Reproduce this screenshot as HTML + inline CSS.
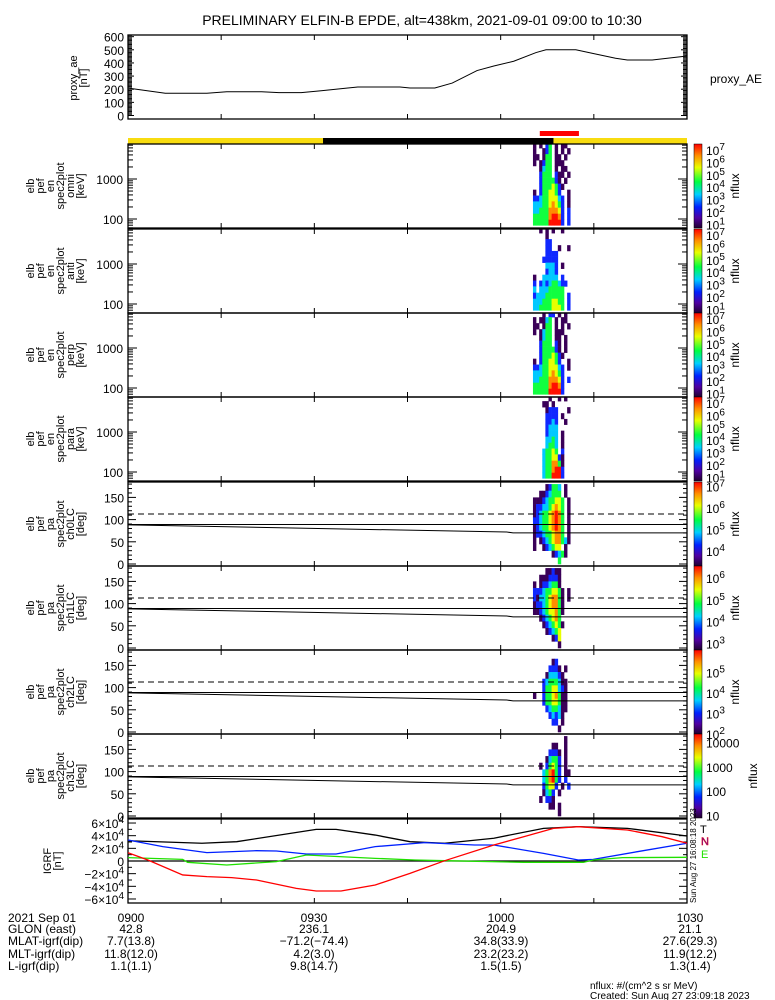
<!DOCTYPE html>
<html><head><meta charset="utf-8"><style>
html,body{margin:0;padding:0;background:#fff;}
svg{display:block;font-family:"Liberation Sans",sans-serif;}
</style></head><body>
<svg id="chart" width="775" height="1000" viewBox="0 0 775 1000" xmlns="http://www.w3.org/2000/svg">
<rect x="0" y="0" width="775" height="1000" fill="#fff"/>
<defs>
<linearGradient id="cmap" x1="0" y1="1" x2="0" y2="0">
<stop offset="0" stop-color="#200030"/><stop offset="0.12" stop-color="#5000a0"/><stop offset="0.25" stop-color="#0020ff"/>
<stop offset="0.4" stop-color="#00d0ff"/><stop offset="0.55" stop-color="#00ff40"/><stop offset="0.72" stop-color="#e8ff00"/>
<stop offset="0.86" stop-color="#ff9000"/><stop offset="1" stop-color="#ff0000"/>
</linearGradient>
</defs>
<text x="422" y="25" font-size="14" text-anchor="middle">PRELIMINARY ELFIN-B EPDE, alt=438km, 2021-09-01 09:00 to 10:30</text>
</svg>
<script>
// ---------- data ----------
const aeTimes=[0.2,6,12.7,15.9,21.5,24.3,27.9,31.1,35,37,43.8,45.4,49.4,52.2,56.2,58.9,62.1,65.7,67.3,72.1,74.9,78.5,80.4,84.4,90];
const aeValues=[207,169,169,181,181,174,174,188,207,217,217,209,209,247,342,377,413,479,500,500,472,436,422,422,453];
const aeTicks=[0,100,200,300,400,500,600];

const igrfBlackT=[0,11.9,17.5,30.3,33.5,39.8,45.4,51,58.9,66.9,72.5,80.4,90];
const igrfBlackV=[3.2,2.8,3.05,5.0,5.0,4.1,3.05,2.8,3.6,5.16,5.42,5.16,3.95];
const igrfRedT=[0,3.2,8.8,12.7,16.7,20.7,27.1,30.3,34.3,39.8,45.4,51,58.9,63.7,68.5,72.5,80.4,86,90];
const igrfRedV=[1.31,0.16,-2.2,-2.47,-2.63,-3.0,-4.32,-4.74,-4.74,-3.79,-1.95,0.05,2.53,3.84,5.16,5.42,4.9,3.84,2.8];
const igrfBlueT=[0,5.6,12.7,20.7,23.9,28.7,33.5,39.8,47.8,55.8,58.9,66.9,72.5,74.9,82,90];
const igrfBlueV=[3.32,2.27,1.32,1.63,1.58,1.11,1.11,2.27,2.9,2.53,2.53,1.21,0.16,0.26,1.47,2.8];
const igrfGreenT=[0,8.8,9.6,15.9,23.9,28.7,39.8,46.2,51,63.7,73.3,74.9,79.6,90];
const igrfGreenV=[0.53,0.26,-0.21,-0.63,-0.1,0.95,0.42,0.16,0.05,-0.21,-0.21,0.16,0.53,0.58];
const igrfTicks=[-6,-4,-2,0,2,4,6];

const lcTimes=[0,61,62,90];
const lcFlat=[89,89,89,89];
const lcSlant=[88,72,70,70];
const lcDashed=112.5;

const specT0=65.2, specDt=0.5;
const energies=[7000,5000,3500,2500,1800,1300,900,650,450,330,230,160,115,80];
const pitchBins=[172.5,157.5,142.5,127.5,112.5,97.5,82.5,67.5,52.5,37.5,22.5,7.5];
const omni=["1.1.24.1.11..","1..124.1.1.1.","11.144.11.1..","1.1244.111...","..1344.1.11..","..2444.211.1.","..2444421.1..","..24445421...","1.2445542..1.","2234455532.1.","3334456542.1.","3344466652.2.","4444467762.2.","4444477772.2."];
const anti=["..1.1.1..1...","....1........","....22.......","....22..1..1.","....2222.....","...22222.....","....3332.1...","....2332.....","1..33333.2...","2.232344322..","3.33344444...","2333444444.2.","3334445544.2.","3344445554.2."];
const perp=["...1.22.1.1..","1.1134.1.11..","11.144.1.1.1.","1.1344.111...","..1344.11.1..","..2444.21.1..","..2444421.1..","..24445421...","1.2445542..1.","2234455532.1.","3334456542...","3344466652.2.","4444467762...","4444477772..."];
const para=[".....1..1.1..","...11.1......","....1222...1.","....2222.1...","....2232..1..","....2333.....","....2333.1...","....3343.1...","....3443.1...","...34454.2...","...3445521...","...3446641...","...3446772...","...3447772..."];
const ch0=["....12443.1..","..1123444.1..","1112344554.1.","1223345654.1.","1234456764.1.","2234456764.1.","1234456764.1.","1223445664.1.","1.1234566431.","1..123455.1..","......12341..","........4...."];
const ch1=["....11211....","..1112221....","1.1223441....","2223445541.1.","2133456641.1.","1223456641...","1123455641...","..1234564....","...1234541...","....12345....","......125....","........1...."];
const ch2=[".............","......12.....",".....2221.1..","....133321...","...23444311..","...24455321..","1..24456411..","...24455411..","....2344311..",".....23231...","......22.1...","........1...."];
const ch3=["..........1..","......11..1..",".....2221.1..","....13442.1..","..1.24542.1..","...346742.11.","...346742.2..","...24552.1.2.","...1342.1....","..1.221......",".....11.1....","........1...."];

const spColors=["","#3a0058","#1028ff","#00c8ff","#10ff40","#e8ff00","#ff8c00","#ff1000"];

// ---------- geometry ----------
const X0=128, X1=687;
const NS="http://www.w3.org/2000/svg";
const svg=document.getElementById('chart');
function xs(t){return X0+t*(X1-X0)/90;}
function mk(tag,attrs,parent){const e=document.createElementNS(NS,tag);for(const k in attrs)e.setAttribute(k,attrs[k]);(parent||svg).appendChild(e);return e;}
function txt(x,y,s,size,anchor,parent){const e=mk('text',{x:x,y:y,'font-size':size,'text-anchor':anchor||'start'},parent);e.textContent=s;return e;}
function sup(x,y,base,exp,size,parent){const e=mk('text',{x:x,y:y,'font-size':size},parent);const a=document.createElementNS(NS,'tspan');a.textContent=base;e.appendChild(a);const b=document.createElementNS(NS,'tspan');b.setAttribute('dy','-5');b.setAttribute('font-size',size-2);b.textContent=exp;e.appendChild(b);return e;}

function xTicks(top,bot){
  for(let m=0;m<=90;m+=15){const x=xs(m);
    const t1=mk('line',{x1:x,y1:bot,x2:x,y2:bot-5,stroke:'#000','stroke-width':1});
    
    
    const t2=mk('line',{x1:x,y1:top,x2:x,y2:top+5,stroke:'#000','stroke-width':1});
    
    
  }
}
function frame(top,bot,name){
  const r=mk('rect',{x:X0,y:top,width:X1-X0,height:bot-top,fill:'none',stroke:'#000','stroke-width':1.3});
  
  
}
function leftLabel(cx,cy,lines,name){
  const g=mk('g',{transform:`translate(${cx},${cy}) rotate(-90)`});
  
  
  lines.forEach((s,i)=>{txt(0,(i-(lines.length-1)/2)*10+4,s,11,'middle',g);});
}
function yTick(x,y,len,side){
  const l=mk('line',{x1:x,y1:y,x2:side>0?x+len:x-len,y2:y,stroke:'#000','stroke-width':1});
  
  
}
function colorbar(top,bot,lmin,lmax,labels,name,plain){
  const r=mk('rect',{x:694,y:top,width:8,height:bot-top,fill:'url(#cmap)',stroke:'#000','stroke-width':0.5});
  
  
  labels.forEach(p=>{const y=bot-(p-lmin)/(lmax-lmin)*(bot-top)+5;
    const e=plain?txt(706,y,String(Math.pow(10,p)),12,'start'):sup(706,y,'10',String(p),12);
    
    
  });
  const g=mk('g',{transform:`translate(${plain?757:739},${(top+bot)/2}) rotate(-90)`});
  
  
  txt(0,0,'nflux',12,'middle',g);
}

// ---------- AE panel ----------
const aeTop=35,aeBot=119;
function aeY(v){return 115.5-v*0.1314;}
frame(aeTop,aeBot,'proxy-ae-panel');
xTicks(aeTop,aeBot);
for(let v=0;v<=620;v+=10){if(aeY(v)<aeTop)break;yTick(X0,aeY(v),v%100===0?6:4,1);yTick(X1,aeY(v),v%100===0?6:4,-1);}
aeTicks.forEach(v=>{const e=txt(124,aeY(v)+5,String(v),12,'end');});
leftLabel(78,78,['proxy_ae','[nT]'],'ae-y-axis-title');
{const pts=aeTimes.map((t,i)=>xs(t)+','+aeY(aeValues[i])).join(' ');
const pl=mk('polyline',{points:pts,fill:'none',stroke:'#000','stroke-width':1});

}
{const e=txt(710,83,'proxy_AE',12,'start');}

// ---------- status bars ----------
{const a=mk('rect',{x:X0,y:138,width:X1-X0,height:6,fill:'#f8dc10'});
const b=mk('rect',{x:xs(31.4),y:138,width:xs(68.5)-xs(31.4),height:6,fill:'#000'});
const c=mk('rect',{x:xs(66.3),y:131,width:xs(72.6)-xs(66.3),height:5,fill:'#f00'});}

// ---------- spectrogram panels ----------
const specPanels=[
 {top:144,data:omni,label:['elb','pef','en','spec2plot','omni','[keV]'],name:'omni'},
 {top:229,data:anti,label:['elb','pef','en','spec2plot','anti','[keV]'],name:'anti'},
 {top:313,data:perp,label:['elb','pef','en','spec2plot','perp','[keV]'],name:'perp'},
 {top:397,data:para,label:['elb','pef','en','spec2plot','para','[keV]'],name:'para'}];
specPanels.forEach(p=>{
  const top=p.top,bot=top+84;
  const ey=e=>bot-(Math.log10(e)-1.775)*40;
  p.data.forEach((row,ri)=>{
    const e=energies[ri];
    const eHi=ri===0?e*1.2:Math.sqrt(e*energies[ri-1]);
    const eLo=ri===energies.length-1?e/1.15:Math.sqrt(e*energies[ri+1]);
    for(let ci=0;ci<row.length;ci++){const c=row[ci];if(c==='.')continue;
      const t=specT0+ci*specDt;
      const y1=Math.max(top,ey(eHi)),y2=ey(eLo);
      const r=mk('rect',{x:xs(t),y:y1,width:xs(t+specDt)-xs(t)+0.3,height:y2-y1+0.3,fill:spColors[+c]});
      
      
    }
  });
  frame(top,bot,p.name+'-energy-panel');
  xTicks(top,bot);
  for(let d=1;d<=4;d++)for(let k=1;k<10;k++){const v=k*Math.pow(10,d);const y=ey(v);if(y<top||y>bot)continue;yTick(X0,y,k===1?9:5,1);yTick(X1,y,k===1?9:5,-1);}
  [100,1000].forEach(v=>{const e=txt(123,ey(v)+5,String(v),12,'end');});
  leftLabel(55,(top+bot)/2,p.label,p.name+'-y-axis-title');
  colorbar(top,bot,0.7,7.5,[7,6,5,4,3,2,1],p.name+'-colorbar',false);
});

// ---------- pitch angle panels ----------
const paPanels=[
 {top:482,data:ch0,label:['elb','pef','pa','spec2plot','ch0LC','[deg]'],name:'ch0lc',cb:[3.3,7.2,[7,6,5,4]],plain:false},
 {top:566,data:ch1,label:['elb','pef','pa','spec2plot','ch1LC','[deg]'],name:'ch1lc',cb:[2.7,6.55,[6,5,4,3]],plain:false},
 {top:650,data:ch2,label:['elb','pef','pa','spec2plot','ch2LC','[deg]'],name:'ch2lc',cb:[2.0,6.1,[5,4,3,2]],plain:false},
 {top:734,data:ch3,label:['elb','pef','pa','spec2plot','ch3LC','[deg]'],name:'ch3lc',cb:[0.9,4.35,[4,3,2,1]],plain:true}];
paPanels.forEach(p=>{
  const top=p.top,bot=top+84;
  const py=d=>bot-2-d*0.444;
  p.data.forEach((row,ri)=>{
    const d=pitchBins[ri];
    for(let ci=0;ci<row.length;ci++){const c=row[ci];if(c==='.')continue;
      const t=specT0+ci*specDt;
      const y1=py(d+7.5),y2=py(d-7.5);
      const r=mk('rect',{x:xs(t),y:y1,width:xs(t+specDt)-xs(t)+0.3,height:y2-y1+0.3,fill:spColors[+c]});
      
      
    }
  });
  const dl=mk('line',{x1:X0,y1:py(lcDashed),x2:X1,y2:py(lcDashed),stroke:'#000','stroke-width':1,'stroke-dasharray':'6,4'});
  
  
  const f=mk('polyline',{points:lcTimes.map((t,i)=>xs(t)+','+py(lcFlat[i])).join(' '),fill:'none',stroke:'#000','stroke-width':1});
  
  
  const s=mk('polyline',{points:lcTimes.map((t,i)=>xs(t)+','+py(lcSlant[i])).join(' '),fill:'none',stroke:'#000','stroke-width':1});
  
  
  frame(top,bot,p.name+'-pitch-panel');
  xTicks(top,bot);
  for(let d=0;d<=180;d+=10){yTick(X0,py(d),d%50===0?8:4,1);yTick(X1,py(d),d%50===0?8:4,-1);}
  [0,50,100,150].forEach(v=>{const e=txt(124,py(v)+5,String(v),12,'end');});
  leftLabel(55,(top+bot)/2,p.label,p.name+'-y-axis-title');
  colorbar(top,bot,p.cb[0],p.cb[1],p.cb[2],p.name+'-colorbar',p.plain);
});

// ---------- IGRF panel ----------
const igTop=819,igBot=903;
const iy=v=>861-v*6.33;
frame(igTop,igBot,'igrf-panel');
xTicks(igTop,igBot);
{const z=mk('line',{x1:X0,y1:iy(0),x2:X1,y2:iy(0),stroke:'#000','stroke-width':1.2});}
for(let v=-6;v<=6;v+=1){yTick(X0,iy(v),v%2===0?8:4,1);yTick(X1,iy(v),v%2===0?8:4,-1);}
igrfTicks.forEach(v=>{const s=(v<0?'\u2212':'')+(v===0?'0':Math.abs(v)+'\u00d710');
  const e=v===0?txt(124,iy(v)+5,'0',12,'end'):sup(103,iy(v)+5,s,'4',12);
  if(v!==0)e.setAttribute('text-anchor','end');
  if(v!==0)e.setAttribute('x','124');
  
  });
leftLabel(52,861,['IGRF','[nT]'],'igrf-y-axis-title');
[[igrfBlackT,igrfBlackV,'#000','igrf-total-line'],[igrfBlueT,igrfBlueV,'#0020ff','igrf-n-line'],[igrfGreenT,igrfGreenV,'#20e000','igrf-e-line'],[igrfRedT,igrfRedV,'#ff0000','igrf-down-line']].forEach(s=>{
  const pl=mk('polyline',{points:s[0].map((t,i)=>xs(t)+','+iy(s[1][i])).join(' '),fill:'none',stroke:s[2],'stroke-width':1.3});
  
  
});
{const g=mk('g',{transform:'translate(696,903) rotate(-90)'});txt(0,0,'Sun Aug 27 16:08:18 2023',8,'start',g);
const a=txt(700,833,'T',11,'start');a.setAttribute('fill','#000');
const b=txt(701,845,'N',11,'start');b.setAttribute('fill','#0020ff');b.setAttribute('stroke','#ff0000');b.setAttribute('stroke-width','0.5');
const c=txt(701,858,'E',11,'start');c.setAttribute('fill','#20e000');}

// ---------- bottom annotations ----------
const rowNames=['2021 Sep 01','GLON (east)','MLAT-igrf(dip)','MLT-igrf(dip)','L-igrf(dip)'];
const colX=[131,314,501,690];
const colVals=[['0900','42.8','7.7(13.8)','11.8(12.0)','1.1(1.1)'],['0930','236.1','\u221271.2(\u221274.4)','4.2(3.0)','9.8(14.7)'],['1000','204.9','34.8(33.9)','23.2(23.2)','1.5(1.5)'],['1030','21.1','27.6(29.3)','11.9(12.2)','1.3(1.4)']];
const rowY=[922,933,945,958,970];
rowNames.forEach((s,i)=>{const e=txt(8,rowY[i],s,12,'start');});
colVals.forEach((c,j)=>c.forEach((s,i)=>{const e=txt(colX[j],rowY[i],s,12,'middle');}));
{const a=txt(590,989,'nflux: #/(cm^2 s sr MeV)',10,'start');
const b=txt(590,999,'Created: Sun Aug 27 23:09:18 2023',10,'start');}
</script>
</body></html>
